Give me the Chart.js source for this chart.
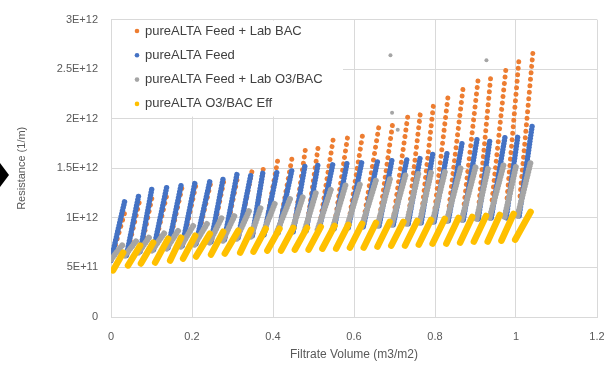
<!DOCTYPE html>
<html>
<head>
<meta charset="utf-8">
<script src="https://cdn.jsdelivr.net/npm/chart.js@4"></script>
<style>
    body { margin: 0; background: #fff; }
    #wrap { position: relative; width: 604px; height: 368px; }
    #marker { position: absolute; left: 0; top: 163px; width: 9px; height: 24px; background: #000;
              clip-path: polygon(0 0, 100% 50%, 0 100%); }
</style>
</head>
<body>
<div id="wrap">
    <canvas id="chart"></canvas>
    <div id="marker"></div>
</div>
<script>
// series names, as in the legend
var seriesNames = ['pureALTA Feed + Lab BAC', 'pureALTA Feed', 'pureALTA Feed + Lab O3/BAC', 'pureALTA O3/BAC Eff'];
var seriesColors = ['#ED7D31', '#4472C4', '#A5A5A5', '#FFC000'];

var xTickLabels = ['0', '0.2', '0.4', '0.6', '0.8', '1', '1.2'];
var yTickLabels = ['0', '5E+11', '1E+12', '1.5E+12', '2E+12', '2.5E+12', '3E+12'];

// resistance values are in units of 1E+12 1/m
// each filtration cycle: start volume, end volume, resistance at start, resistance at end

// pureALTA Feed + Lab BAC
var bacStart = [0.002, 0.040, 0.074, 0.107, 0.143, 0.178, 0.212, 0.249, 0.282, 0.316, 0.351, 0.380, 0.415, 0.452, 0.484,
                0.516, 0.553, 0.588, 0.625, 0.664, 0.699, 0.736, 0.768, 0.800, 0.835, 0.872, 0.909, 0.941, 0.978, 1.010];
var bacEnd = [0.037, 0.071, 0.103, 0.140, 0.175, 0.209, 0.246, 0.279, 0.313, 0.348, 0.377, 0.412, 0.449, 0.481, 0.513,
              0.550, 0.585, 0.622, 0.661, 0.696, 0.733, 0.765, 0.797, 0.832, 0.869, 0.906, 0.938, 0.975, 1.007, 1.042];
var bacLow = [0.60, 0.64, 0.68, 0.70, 0.72, 0.74, 0.76, 0.78, 0.80, 0.82, 0.84, 0.86, 0.88, 0.90, 0.92,
              0.94, 0.96, 0.98, 1.00, 1.02, 1.04, 1.06, 1.08, 1.10, 1.12, 1.14, 1.16, 1.18, 1.20, 1.22];
var bacHigh = [1.10, 1.18, 1.24, 1.27, 1.30, 1.32, 1.35, 1.38, 1.42, 1.47, 1.52, 1.59, 1.65, 1.72, 1.76,
               1.83, 1.84, 1.86, 1.91, 1.97, 2.03, 2.10, 2.17, 2.22, 2.30, 2.38, 2.44, 2.50, 2.58, 2.68];

// pureALTA Feed
var feedStart = [0.000, 0.038, 0.072, 0.105, 0.141, 0.176, 0.210, 0.247, 0.280, 0.314, 0.349, 0.378, 0.413, 0.450, 0.482,
                 0.514, 0.551, 0.586, 0.623, 0.662, 0.697, 0.734, 0.766, 0.798, 0.833, 0.870, 0.907, 0.939, 0.976, 1.008];
var feedEnd = [0.035, 0.069, 0.101, 0.138, 0.173, 0.207, 0.244, 0.277, 0.311, 0.346, 0.375, 0.410, 0.447, 0.479, 0.511,
               0.548, 0.583, 0.620, 0.659, 0.694, 0.731, 0.763, 0.795, 0.830, 0.867, 0.904, 0.936, 0.973, 1.005, 1.040];
var feedLow = [0.57, 0.62, 0.66, 0.68, 0.70, 0.72, 0.74, 0.76, 0.78, 0.80, 0.82, 0.83, 0.85, 0.86, 0.87,
               0.88, 0.89, 0.90, 0.91, 0.92, 0.93, 0.94, 0.95, 0.96, 0.97, 0.98, 0.99, 1.00, 1.00, 1.02];
var feedHigh = [1.19, 1.24, 1.30, 1.32, 1.33, 1.35, 1.37, 1.40, 1.44, 1.45, 1.46, 1.47, 1.49, 1.53, 1.54,
                1.55, 1.56, 1.58, 1.59, 1.59, 1.60, 1.60, 1.66, 1.66, 1.76, 1.80, 1.80, 1.82, 1.84, 1.93];

// pureALTA Feed + Lab O3/BAC
var ozoStart = [0.000, 0.034, 0.068, 0.101, 0.137, 0.172, 0.206, 0.243, 0.276, 0.310, 0.345, 0.374, 0.409, 0.446, 0.478,
                0.510, 0.547, 0.582, 0.619, 0.658, 0.693, 0.730, 0.762, 0.794, 0.829, 0.866, 0.903, 0.935, 0.972, 1.004];
var ozoEnd = [0.031, 0.065, 0.097, 0.134, 0.169, 0.203, 0.240, 0.273, 0.307, 0.342, 0.371, 0.406, 0.443, 0.475, 0.507,
              0.544, 0.579, 0.616, 0.655, 0.690, 0.727, 0.759, 0.791, 0.826, 0.863, 0.900, 0.932, 0.969, 1.001, 1.036];
var ozoLow = [0.58, 0.62, 0.65, 0.67, 0.69, 0.71, 0.73, 0.75, 0.77, 0.79, 0.81, 0.83, 0.85, 0.86, 0.87,
              0.88, 0.89, 0.90, 0.91, 0.92, 0.93, 0.94, 0.95, 0.96, 0.97, 0.98, 0.99, 1.00, 1.01, 1.02];
var ozoHigh = [0.74, 0.78, 0.82, 0.86, 0.89, 0.92, 0.96, 1.00, 1.04, 1.08, 1.12, 1.16, 1.20, 1.23, 1.27,
               1.30, 1.33, 1.36, 1.39, 1.41, 1.43, 1.45, 1.47, 1.49, 1.50, 1.51, 1.52, 1.53, 1.54, 1.56];
// stray O3/BAC readings
var ozoStrayX = [0.690, 0.694, 0.708, 0.927];
var ozoStrayY = [2.64, 2.06, 1.89, 2.59];

// pureALTA O3/BAC Eff
var effStart = [0.005, 0.042, 0.074, 0.109, 0.146, 0.178, 0.210, 0.247, 0.281, 0.319, 0.352, 0.386, 0.420, 0.454, 0.488,
                0.522, 0.556, 0.590, 0.624, 0.658, 0.692, 0.726, 0.760, 0.794, 0.828, 0.862, 0.896, 0.930, 0.964, 0.998];
var effEnd = [0.030, 0.072, 0.104, 0.141, 0.173, 0.208, 0.244, 0.277, 0.314, 0.346, 0.382, 0.416, 0.450, 0.484, 0.518,
              0.552, 0.586, 0.620, 0.654, 0.688, 0.722, 0.756, 0.790, 0.824, 0.858, 0.892, 0.926, 0.960, 0.994, 1.036];
var effLow = [0.47, 0.52, 0.54, 0.55, 0.57, 0.59, 0.61, 0.63, 0.64, 0.65, 0.66, 0.67, 0.67, 0.68, 0.68,
              0.69, 0.69, 0.70, 0.70, 0.71, 0.72, 0.72, 0.73, 0.74, 0.74, 0.75, 0.76, 0.76, 0.77, 0.78];
var effHigh = [0.65, 0.72, 0.75, 0.79, 0.80, 0.82, 0.84, 0.86, 0.87, 0.88, 0.89, 0.89, 0.90, 0.90, 0.91,
               0.92, 0.93, 0.94, 0.95, 0.96, 0.96, 0.97, 0.98, 0.99, 1.00, 1.01, 1.02, 1.03, 1.04, 1.06];

var UNIT = 1e12;

function cycles(starts, ends, lows, highs) {
    var pts = [];
    for (var i = 0; i < starts.length; i++) {
        pts.push({ x: starts[i], y: lows[i] * UNIT });
        pts.push({ x: ends[i], y: highs[i] * UNIT });
        pts.push({ x: ends[i], y: null });   // break between cycles
    }
    return pts;
}

function points(xs, ys) {
    return xs.map(function(x, i) { return { x: x, y: ys[i] * UNIT }; });
}

function cycleSet(label, color, data, width, dash, order) {
    return {
        label: label,
        data: data,
        showLine: true,
        spanGaps: false,
        borderColor: color,
        backgroundColor: color,
        borderWidth: width,
        borderDash: dash,
        borderCapStyle: 'round',
        borderJoinStyle: 'round',
        pointRadius: 0,
        order: order
    };
}

// draws the legend box inside the plot, over the gridlines
var insideLegend = {
    id: 'insideLegend',
    beforeDatasetsDraw: function(chart) {
        var ctx = chart.ctx;
        var area = chart.chartArea;
        ctx.save();
        ctx.fillStyle = '#fff';
        ctx.fillRect(area.left + 1, area.top + 1, 231, 96);
        ctx.font = '13px "Liberation Sans", Arial, sans-serif';
        ctx.textBaseline = 'middle';
        for (var i = 0; i < seriesNames.length; i++) {
            var y = 31 + i * 24.3;
            ctx.fillStyle = seriesColors[i];
            ctx.beginPath();
            ctx.arc(137, y, 2.3, 0, Math.PI * 2);
            ctx.fill();
            ctx.fillStyle = '#404040';
            ctx.fillText(seriesNames[i], 145, y);
        }
        ctx.restore();
    }
};

Chart.defaults.font.family = '"Liberation Sans", Arial, sans-serif';
Chart.defaults.color = '#595959';

new Chart(document.getElementById('chart'), {
    type: 'scatter',
    data: {
        datasets: [
            cycleSet(seriesNames[0], seriesColors[0], cycles(bacStart, bacEnd, bacLow, bacHigh), 5, [0.01, 6.5], 4),
            cycleSet(seriesNames[1], seriesColors[1], cycles(feedStart, feedEnd, feedLow, feedHigh), 5.5, [0.01, 3], 3),
            cycleSet(seriesNames[2], seriesColors[2], cycles(ozoStart, ozoEnd, ozoLow, ozoHigh), 6, [0.01, 3], 2),
            {
                label: seriesNames[2],
                data: points(ozoStrayX, ozoStrayY),
                backgroundColor: seriesColors[2],
                borderWidth: 0,
                pointRadius: 2,
                order: 2
            },
            cycleSet(seriesNames[3], seriesColors[3], cycles(effStart, effEnd, effLow, effHigh), 6.5, [], 1)
        ]
    },
    options: {
        responsive: true,
        maintainAspectRatio: false,
        animation: false,
        layout: { padding: { top: 16, right: 7, left: 0, bottom: 0 } },
        plugins: {
            legend: { display: false },
            tooltip: { enabled: false }
        },
        scales: {
            x: {
                type: 'linear',
                min: 0,
                max: 1.2,
                ticks: {
                    stepSize: 0.2,
                    padding: 13,
                    font: { size: 11 },
                    callback: function(v, i) { return xTickLabels[i]; }
                },
                grid: { color: '#d9d9d9', drawTicks: false },
                border: { color: '#d9d9d9' },
                title: {
                    display: true,
                    text: 'Filtrate Volume (m3/m2)',
                    color: '#595959',
                    font: { size: 12 },
                    padding: { top: 0, bottom: 6 }
                },
                afterFit: function(scale) {
                    scale.height = 51;
                    scale.paddingLeft = 0;
                    scale.paddingRight = 0;
                }
            },
            y: {
                min: 0,
                max: 3e12,
                ticks: {
                    stepSize: 5e11,
                    padding: 13,
                    font: { size: 11 },
                    callback: function(v, i) { return yTickLabels[i]; }
                },
                grid: { color: '#d9d9d9', drawTicks: false },
                border: { color: '#d9d9d9' },
                title: {
                    display: true,
                    text: 'Resistance (1/m)',
                    color: '#595959',
                    font: { size: 11 },
                    padding: { top: 15, bottom: 0 }
                },
                afterFit: function(scale) {
                    scale.width = 111;
                }
            }
        }
    },
    plugins: [insideLegend]
});
</script>
</body>
</html>
